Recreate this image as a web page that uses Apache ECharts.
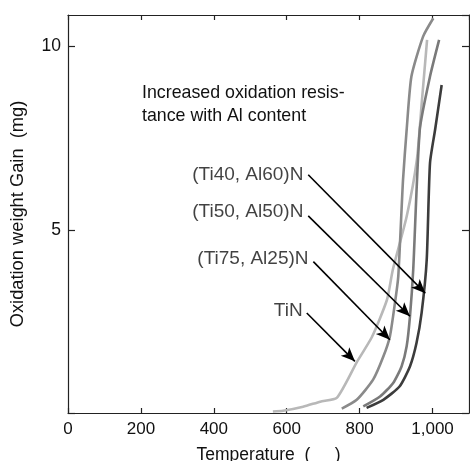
<!DOCTYPE html>
<html>
<head>
<meta charset="utf-8">
<script src="https://cdn.jsdelivr.net/npm/echarts@6/dist/echarts.min.js"></script>
<style>html,body{margin:0;padding:0;background:#fff}#c{width:470px;height:461px}</style>
</head>
<body>
<div id="c"></div>
<script>
// Temperature (x) and oxidation weight gain (y) for each coating
const tinT  = [562, 590, 645, 692, 738, 793, 834, 875, 891, 929, 957, 971, 985];
const tinV  = [0.04, 0.06, 0.17, 0.31, 0.42, 1.40, 2.08, 3.09, 3.91, 5.36, 6.91, 8.54, 10.18];
const ti75T = [751, 792, 837, 865, 883, 897, 906, 919, 929, 942, 974, 1002];
const ti75V = [0.12, 0.36, 0.91, 1.54, 2.09, 3.01, 3.73, 6.36, 7.73, 9.18, 10.27, 10.77];
const ti50T = [810, 856, 892, 915, 929, 938, 947, 965, 993, 1018];
const ti50V = [0.18, 0.45, 0.82, 1.27, 1.82, 2.63, 3.91, 7.73, 9.18, 10.18];
const ti40T = [819, 865, 910, 938, 956, 970, 984, 993, 1007, 1025];
const ti40V = [0.14, 0.36, 0.73, 1.27, 1.91, 2.73, 4.18, 6.82, 7.73, 8.95];

const seriesNames = ['TiN', '(Ti75, Al25)N', '(Ti50, Al50)N', '(Ti40, Al60)N'];
// annotation arrows: label anchor (start) and arrow tip (end), in data units
const arrowStartT = [655, 673, 659, 659];
const arrowStartV = [2.73, 4.13, 5.38, 6.50];
const arrowEndT   = [787, 883, 938, 980];
const arrowEndV   = [1.41, 2.00, 2.64, 3.27];
// label anchors, in data units
const labelT = [652, 668, 654, 654];
const labelV = [2.78, 4.22, 5.50, 6.50];

const xTicks = [0, 200, 400, 600, 800, 1000];
const yTicks = [5, 10];
const noteText = 'Increased oxidation resis-\ntance with Al content';

function pairs(a, b) { return a.map((v, i) => [v, b[i]]); }

const FONT = 'Liberation Sans, Arial, sans-serif';
const colors = ['#b8b8b8', '#8a8a8a', '#7a7a7a', '#3c3c3c'];
const curves = [pairs(tinT, tinV), pairs(ti75T, ti75V), pairs(ti50T, ti50V), pairs(ti40T, ti40V)];

const chart = echarts.init(document.getElementById('c'), null, {renderer: 'canvas'});

const axisLineStyle = {color: '#222', width: 1.2};
const series = curves.map((d, i) => ({
  name: seriesNames[i],
  type: 'line',
  data: d,
  showSymbol: false,
  smooth: 0.2,
  lineStyle: {color: colors[i], width: 2.6},
  z: 3
}));

series.push({
  type: 'line',
  data: [],
  markLine: {
    silent: true,
    symbol: ['none', 'arrow'],
    symbolSize: [9, 14],
    lineStyle: {color: '#000', width: 1.6, type: 'solid'},
    label: {show: false},
    data: arrowStartT.map((t, i) => [{coord: [t, arrowStartV[i]]}, {coord: [arrowEndT[i], arrowEndV[i]]}])
  },
  z: 4
});

series.push({
  type: 'scatter',
  symbolSize: 0,
  data: labelT.map((t, i) => ({value: [t, labelV[i]], name: seriesNames[i]})),
  label: {
    show: true, position: 'left', distance: 3,
    formatter: p => p.name,
    color: '#111', fontFamily: FONT, fontSize: 19
  },
  silent: true,
  z: 5
});

chart.setOption({
  animation: false,
  backgroundColor: '#fff',
  title: {
    text: noteText,
    left: 137, top: 77,
    textStyle: {fontFamily: FONT, fontSize: 17.8, fontWeight: 'normal', color: '#111', lineHeight: 22.5}
  },
  grid: {left: 68, right: 1, top: 15, bottom: 48, outerBoundsMode: 'none', containLabel: false},
  xAxis: [{
    type: 'value', min: 0, max: 1100, interval: 200,
    name: 'Temperature  (     )', nameLocation: 'middle', nameGap: 33,
    nameTextStyle: {fontFamily: FONT, fontSize: 17.5, color: '#111'},
    axisLine: {show: true, onZero: false, lineStyle: axisLineStyle},
    axisTick: {show: true, inside: true, length: 5, lineStyle: axisLineStyle},
    axisLabel: {
      fontFamily: FONT, fontSize: 17, color: '#111', margin: 8, showMaxLabel: false,
      formatter: v => xTicks.includes(v) ? (v >= 1000 ? v.toLocaleString('en-US') : String(v)) : ''
    },
    splitLine: {show: false}
  }, {
    type: 'value', min: 0, max: 1100, interval: 200, position: 'top',
    axisLine: {show: true, onZero: false, lineStyle: axisLineStyle},
    axisTick: {show: true, inside: true, length: 5, lineStyle: axisLineStyle},
    axisLabel: {show: false}, splitLine: {show: false}
  }],
  yAxis: [{
    type: 'value', min: 0, max: 10.86, interval: 5,
    name: 'Oxidation weight Gain  (mg)', nameLocation: 'middle', nameGap: 41,
    nameTextStyle: {fontFamily: FONT, fontSize: 18.3, color: '#111'},
    axisLine: {show: true, onZero: false, lineStyle: axisLineStyle},
    axisTick: {show: true, inside: true, length: 7, lineStyle: axisLineStyle},
    axisLabel: {
      fontFamily: FONT, fontSize: 17.5, color: '#111', margin: 7, showMaxLabel: false,
      formatter: v => yTicks.includes(v) ? String(v) : ''
    },
    splitLine: {show: false}
  }, {
    type: 'value', min: 0, max: 10.86, interval: 5, position: 'right',
    axisLine: {show: true, onZero: false, lineStyle: axisLineStyle},
    axisTick: {show: true, inside: true, length: 7, lineStyle: axisLineStyle},
    axisLabel: {show: false}, splitLine: {show: false}
  }],
  series: series
});
</script>
</body>
</html>
